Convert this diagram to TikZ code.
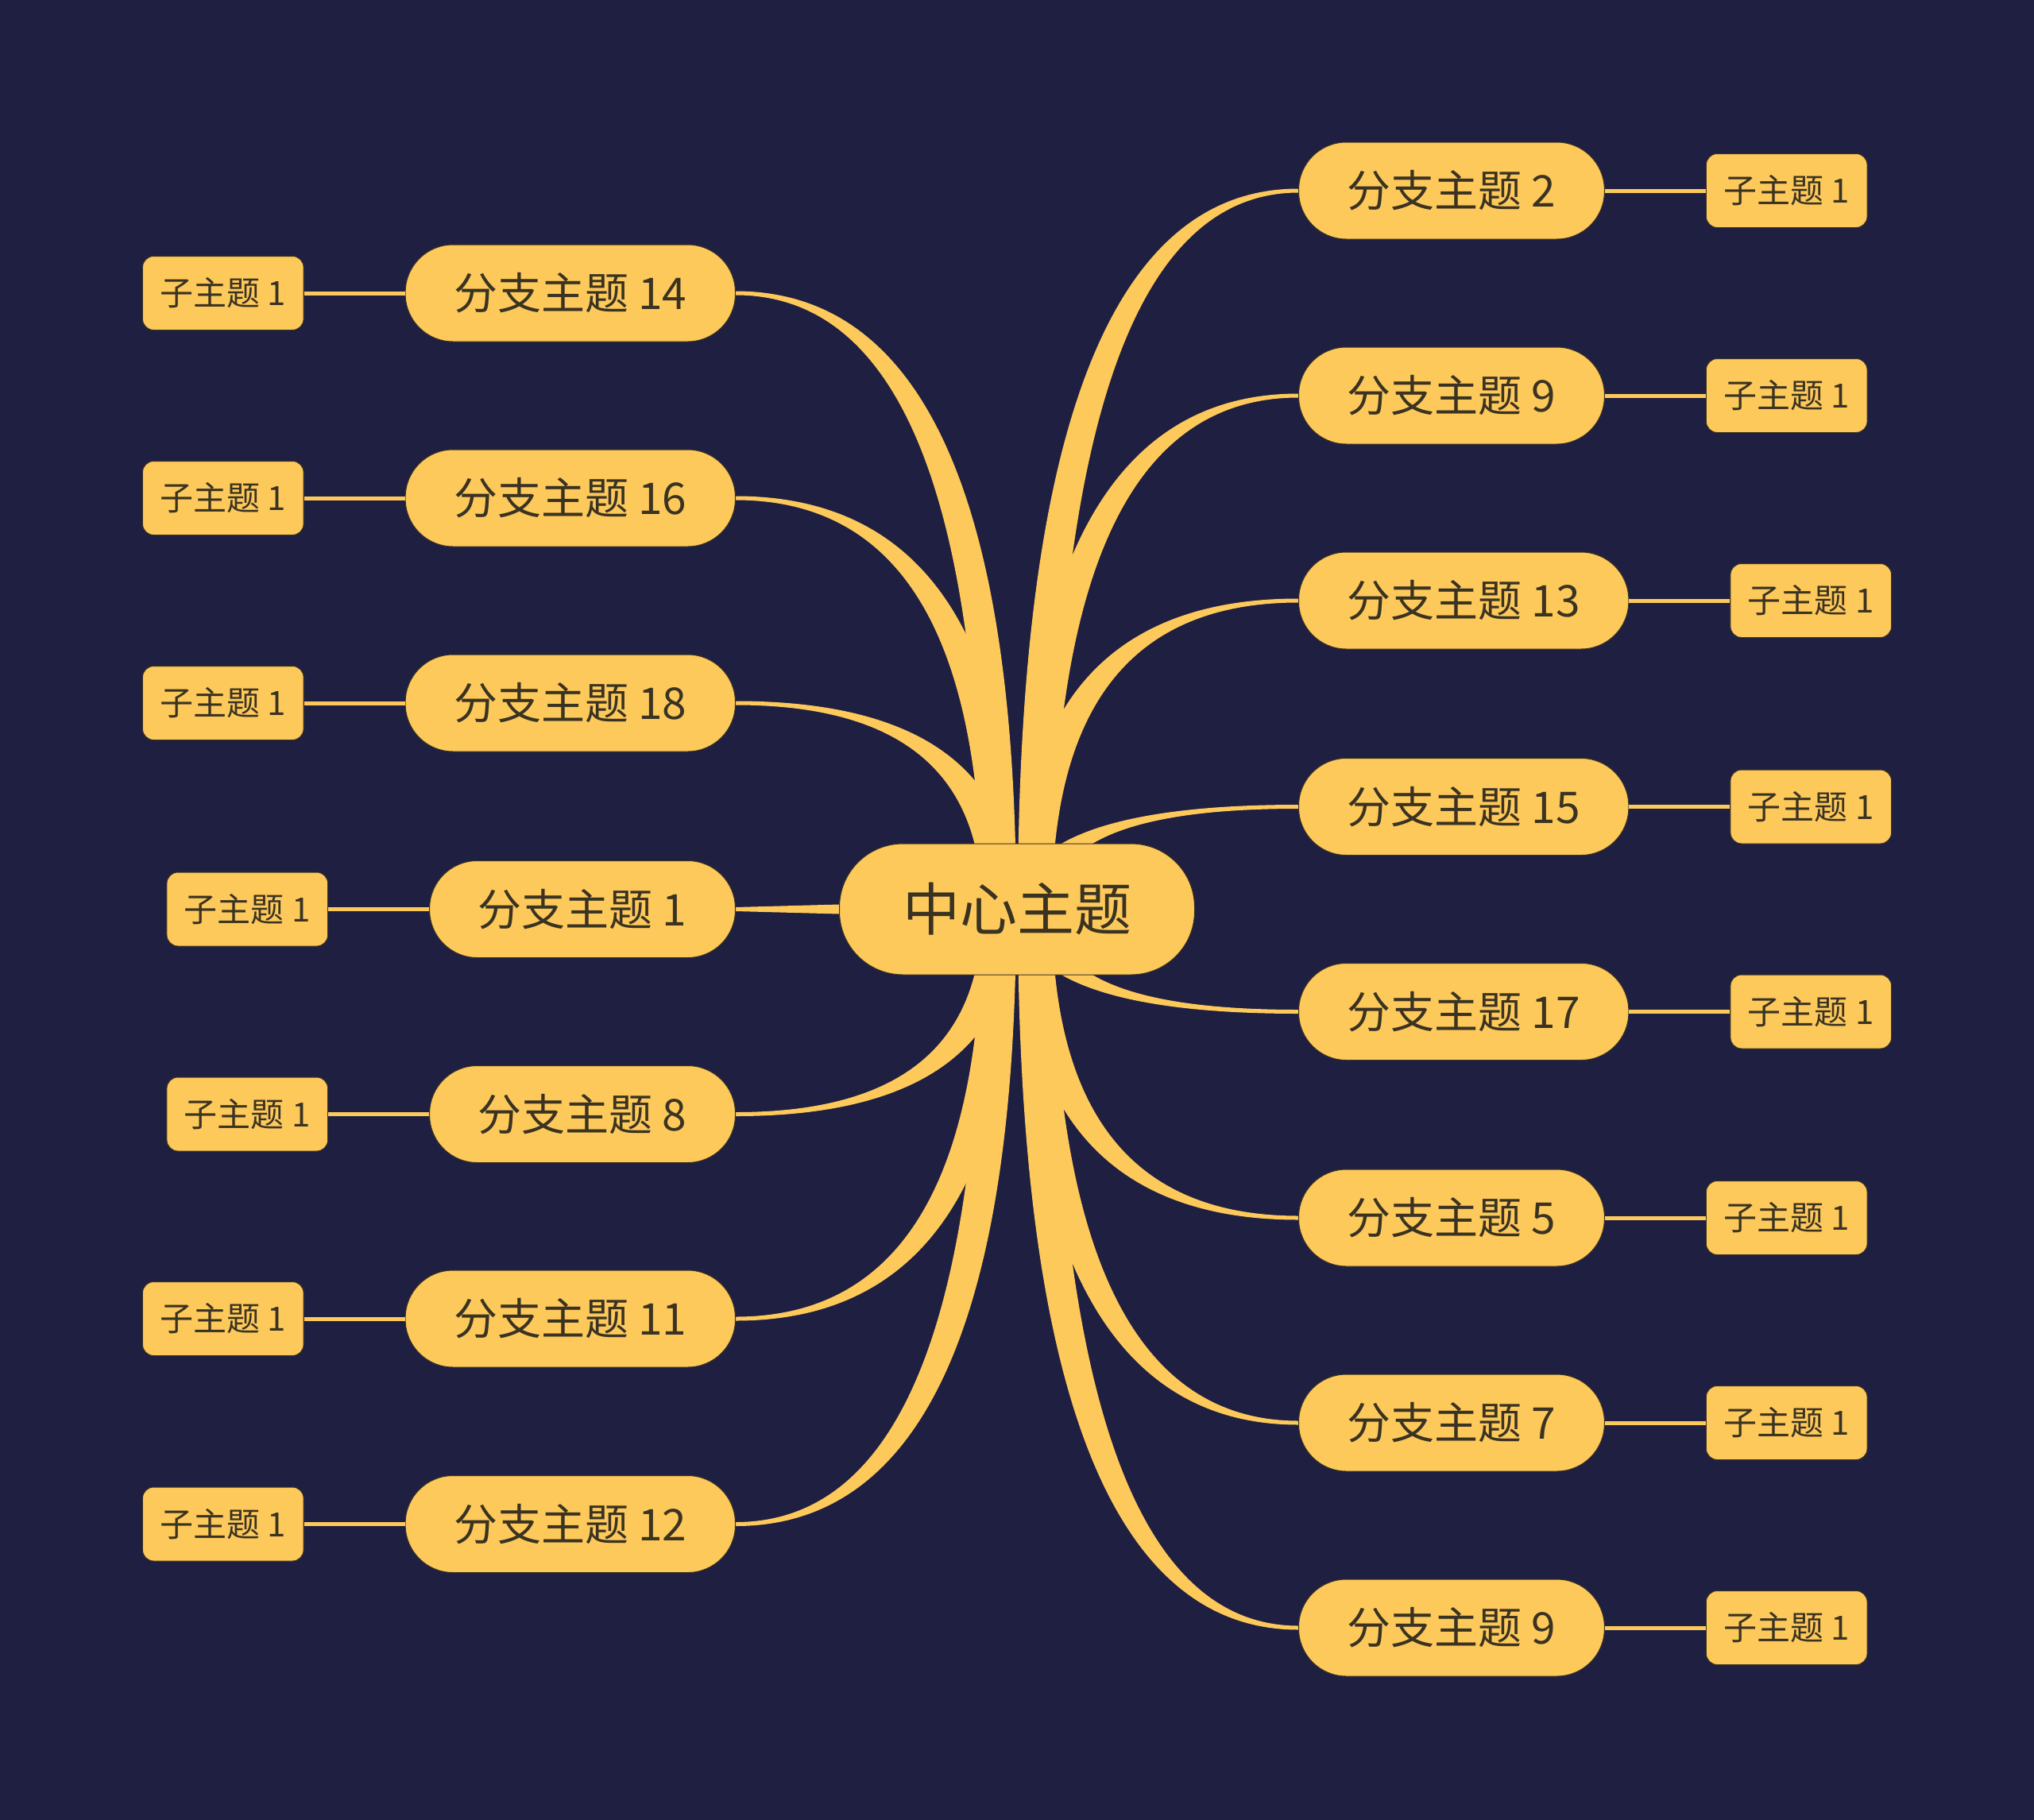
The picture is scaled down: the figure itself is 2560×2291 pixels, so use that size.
\documentclass[tikz,border=0pt]{standalone}
\usepackage{fontspec}
\newfontfamily\cjk{Noto Sans CJK SC}
\usetikzlibrary{calc}
\usetikzlibrary{positioning}
\usetikzlibrary{backgrounds}

\definecolor{mapbg}{RGB}{31,31,66}
\definecolor{mapgold}{RGB}{254,201,91}
\definecolor{mapink}{RGB}{58,51,34}

\begin{document}
\begin{tikzpicture}[x=1pt,y=-1pt,
    every node/.style={fill=mapgold,draw=mapink,line width=1pt,text=mapink},
    root/.style={rounded corners=80pt,minimum height=165pt,inner xsep=79.5pt,font=\cjk\fontsize{72}{80}\selectfont},
    branch/.style={rounded corners=60pt,minimum height=122pt,inner xsep=61pt,font=\cjk\fontsize{55}{60}\selectfont},
    leaf/.style={rounded corners=14pt,minimum height=93pt,inner xsep=22pt,font=\cjk\fontsize{42}{48}\selectfont},
    twig/.style={draw=mapgold,line width=5pt},
    node distance=127pt]

  \useasboundingbox (0,0) rectangle (2560,2291);

  \node [root] (root) at (1280,1144.5) {中心主题};

  % right side
  \foreach \b/\t/\y in {b2/2/240, b9a/9/498, b13/13/756, b15/15/1015.5,
                        b17/17/1273.5, b5/5/1533, b7/7/1791, b9b/9/2049} {
    \node [branch,anchor=west] (\b) at (1634,\y) {分支主题 \t};
    \node [leaf,right=of \b] (\b-leaf) {子主题 1};
    \draw [twig] (\b) -- (\b-leaf);
  }

  % left side
  \foreach \b/\t/\y in {b14/14/369, b16/16/627, b18/18/885, b1/1/1144.5,
                        b8/8/1402.5, b11/11/1660, b12/12/1918.5} {
    \node [branch,anchor=east] (\b) at (926,\y) {分支主题 \t};
    \node [leaf,left=of \b] (\b-leaf) {子主题 1};
    \draw [twig] (\b) -- (\b-leaf);
  }

  \begin{scope}[on background layer]
    \fill [mapbg] (0,0) rectangle (2560,2291);
    % tapered links from the root (quadratic curves written as cubics)
    \foreach \b/\a/\d/\s in {b2/west/1/1, b9a/west/1/1, b13/west/1/1, b15/west/1/1,
                             b17/west/1/-1, b5/west/1/-1, b7/west/1/-1, b9b/west/1/-1,
                             b14/east/-1/1, b16/east/-1/1, b18/east/-1/1,
                             b8/east/-1/-1, b11/east/-1/-1, b12/east/-1/-1}
      \fill [mapgold] let \p1=(root.center), \p2=(\b.\a),
                          \n1={\y1+2/3*(\y2-\y1)},
                          \n2={\x2+2/3*(\x1+\d*1pt-\x2)},
                          \n3={\x2+2/3*(\x1+\d*44pt-\x2)} in
        (\x1+\d*1pt,\y1) .. controls (\x1+\d*1pt,\n1) and (\n2,\y2+\s*2.5pt) .. (\x2,\y2+\s*2.5pt)
        -- (\x2,\y2-\s*2.5pt) .. controls (\n3,\y2-\s*2.5pt) and (\x1+\d*44pt,\n1) .. (\x1+\d*44pt,\y1) -- cycle;
    \fill [mapgold] let \p1=(root.center), \p2=(b1.east) in
      (\x1,\y1+12pt) -- (\x2,\y2+2.5pt) -- (\x2,\y2-2.5pt) -- (\x1,\y1-12pt) -- cycle;
  \end{scope}
\end{tikzpicture}
\end{document}
